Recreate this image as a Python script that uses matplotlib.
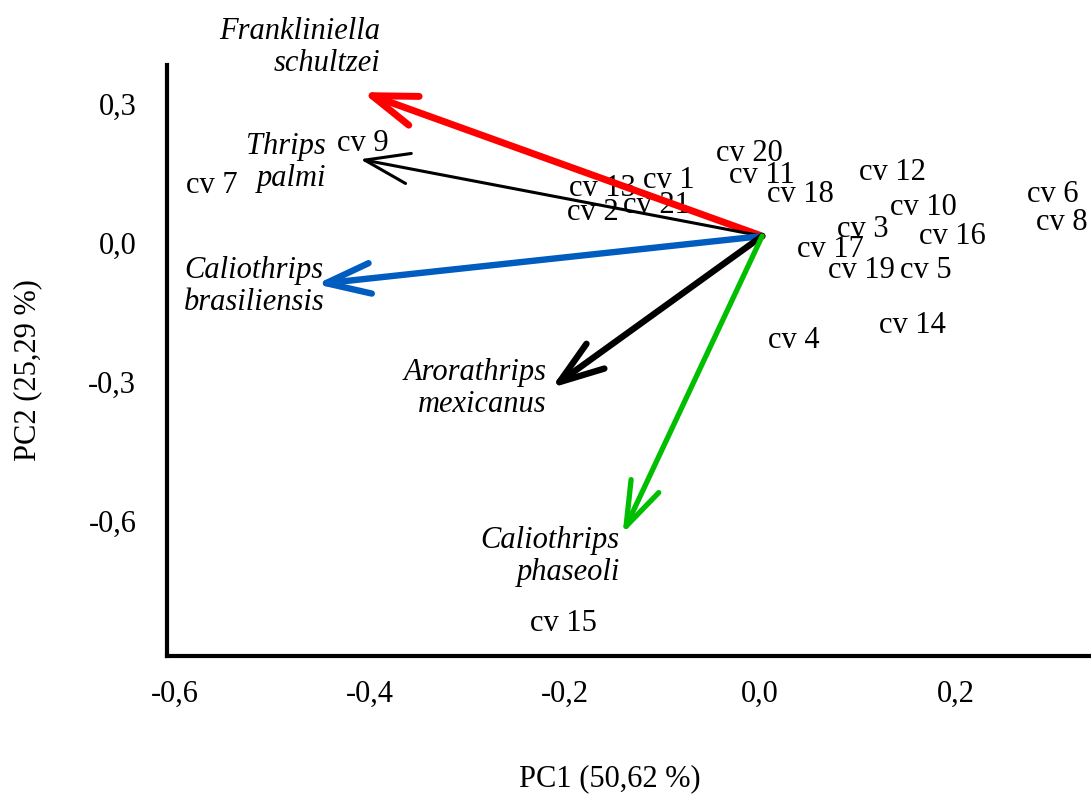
import numpy as np
import matplotlib
matplotlib.use("Agg")
import matplotlib.pyplot as plt

# PCA biplot: cultivar scores and thrips species loadings
cultivars = ["cv 1", "cv 2", "cv 3", "cv 4", "cv 5", "cv 6", "cv 7", "cv 8", "cv 9",
             "cv 10", "cv 11", "cv 12", "cv 13", "cv 14", "cv 15", "cv 16", "cv 17",
             "cv 18", "cv 19", "cv 20", "cv 21"]
pc1 = [-0.094, -0.172, 0.105, 0.034, 0.170, 0.300, -0.562, 0.309, -0.407,
       0.167, 0.002, 0.135, -0.162, 0.156, -0.202, 0.197, 0.072,
       0.041, 0.104, -0.011, -0.106]
pc2 = [0.134, 0.065, 0.030, -0.210, -0.060, 0.104, 0.125, 0.045, 0.216,
       0.076, 0.145, 0.153, 0.118, -0.179, -0.823, 0.015, -0.013,
       0.104, -0.060, 0.194, 0.082]

species = ["Frankliniella\nschultzei", "Thrips\npalmi", "Caliothrips\nbrasiliensis",
           "Arorathrips\nmexicanus", "Caliothrips\nphaseoli"]
load1 = [-0.408, -0.410, -0.455, -0.214, -0.141]
load2 = [0.326, 0.181, -0.089, -0.313, -0.628]
origin = (0.002, 0.015)

# styles for each species arrow
colors = ["#ff0000", "#000000", "#005cbf", "#000000", "#00bf00"]
widths = [5.0, 2.2, 4.6, 4.6, 3.8]
# label placement (x, y, ha) for the species names
label_pos = [(-0.389, 0.423, "right"), (-0.445, 0.174, "right"), (-0.519, -0.094, "center"),
             (-0.219, -0.315, "right"), (-0.144, -0.678, "right")]

plt.rcParams["font.family"] = ["Liberation Serif", "DejaVu Serif"]
fs = 22

fig = plt.figure(figsize=(10.91, 7.96), dpi=100)
ax = fig.add_axes([0.153, 0.176, 0.847, 0.742])

for name, x, y in zip(cultivars, pc1, pc2):
    ax.text(x, y, name, fontsize=fs, ha="center", va="center", zorder=1)

for i in range(len(species)):
    ax.annotate("", xy=(load1[i], load2[i]), xytext=origin,
                arrowprops=dict(arrowstyle="->,head_length=3.2,head_width=1.1",
                                color=colors[i], lw=widths[i], mutation_scale=10,
                                shrinkA=0, shrinkB=0, capstyle="round",
                                joinstyle="round"),
                zorder=2 + i)
    lx, ly, ha = label_pos[i]
    ax.text(lx, ly, species[i], fontsize=fs, style="italic", ha=ha, ma=ha,
            va="center", clip_on=False, linespacing=1.15)

ax.set_xlim(-0.608, 0.339)
ax.set_ylim(-0.892, 0.384)
ax.set_xticks([-0.6, -0.4, -0.2, 0.0, 0.2])
ax.set_xticklabels(["-0,6", "-0,4", "-0,2", "0,0", "0,2"])
ax.set_yticks([0.3, 0.0, -0.3, -0.6])
ax.set_yticklabels(["0,3", "0,0", "-0,3", "-0,6"])
ax.tick_params(axis="both", length=0, labelsize=fs)
ax.tick_params(axis="x", pad=17)
ax.tick_params(axis="y", pad=22)

for s in ["top", "right"]:
    ax.spines[s].set_visible(False)
for s in ["left", "bottom"]:
    ax.spines[s].set_linewidth(3)

ax.set_xlabel("PC1 (50,62 %)", fontsize=fs)
ax.set_ylabel("PC2 (25,29 %)", fontsize=fs)
ax.xaxis.set_label_coords(0.479, -0.184)
ax.yaxis.set_label_coords(-0.135, 0.484)

fig.savefig("out.png", dpi=100)
